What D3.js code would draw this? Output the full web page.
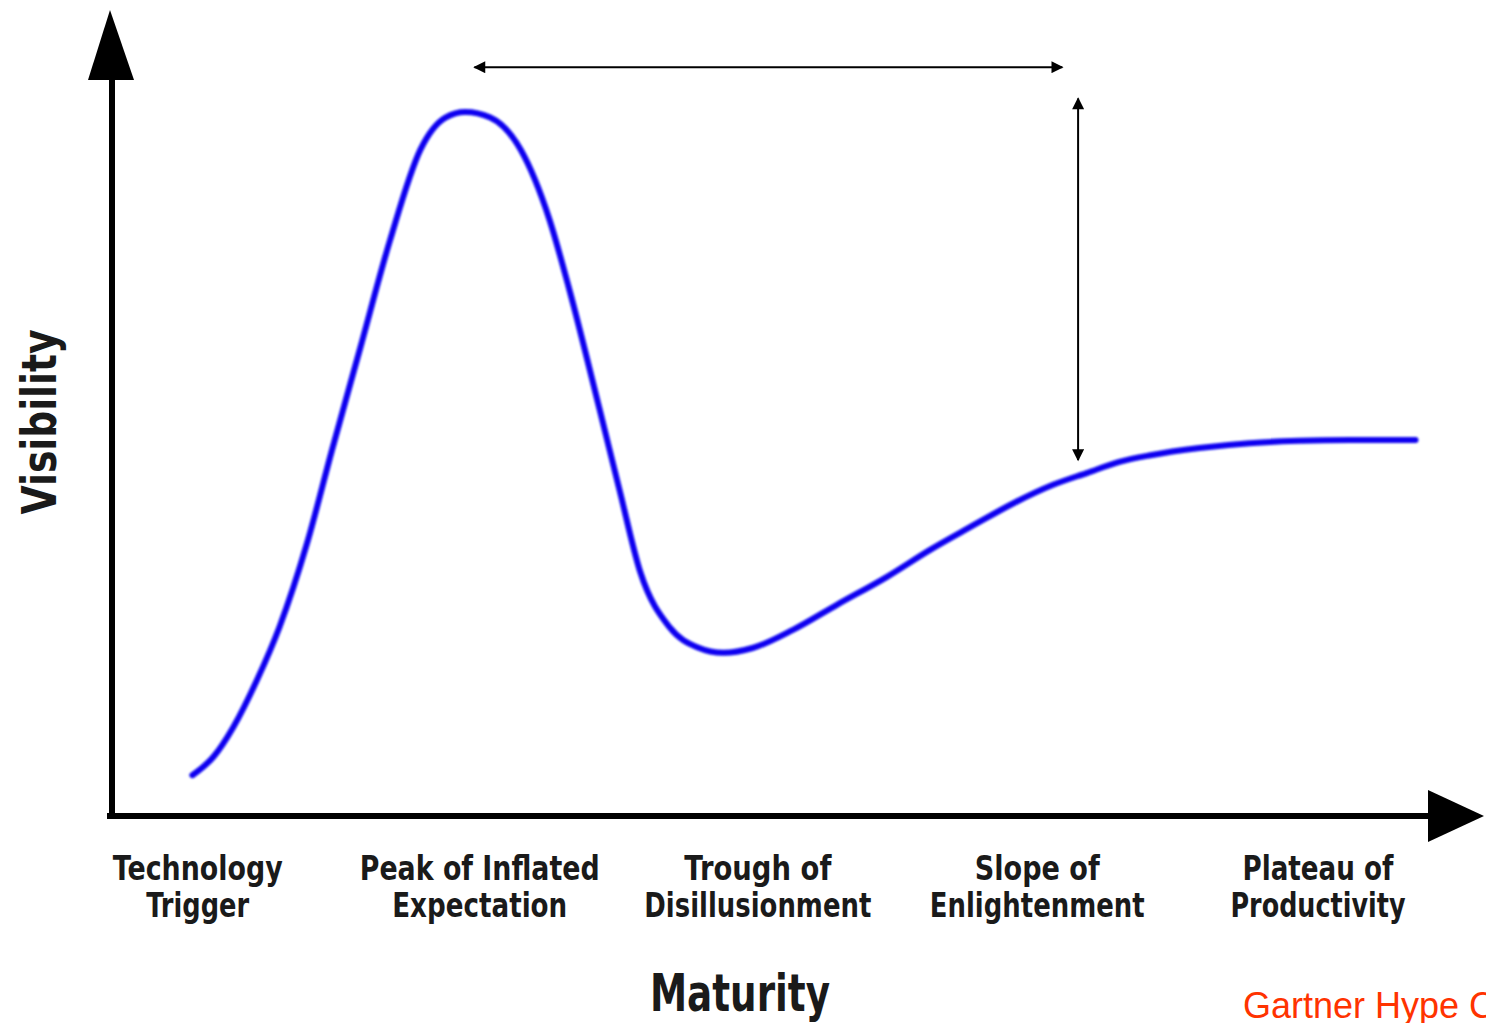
<!DOCTYPE html>
<html>
<head>
<meta charset="utf-8">
<script src="https://cdn.jsdelivr.net/npm/d3@7"></script>
<style>
  html, body { margin: 0; padding: 0; background: #fff; overflow: hidden; }
  svg { display: block; }
  .phase { font-family: "DejaVu Sans", sans-serif; font-weight: bold; fill: #1a1a1a; }
</style>
</head>
<body>
<svg id="chart"></svg>
<script>
var width = 1486;
var height = 1023;

// hype curve: maturity (0-100) vs visibility (0-100)
var maturity = [6.1, 7.7, 9.2, 11.0, 12.7, 14.8, 16.7, 18.8, 21.1, 23.4, 25.3, 26.8, 28.7, 31.0, 33.2, 34.7, 37.0, 38.5, 40.1, 42.3, 44.4, 46.4, 48.6, 51.7, 55.0, 58.8, 62.1, 65.1, 68.4, 71.4, 74.0, 76.5, 78.8, 82.5, 86.3, 90.1, 93.9, 98.9];
var visibility = [5.1, 7.4, 11.1, 17.0, 23.6, 34.1, 45.8, 58.3, 72.0, 83.3, 87.3, 88.0, 87.3, 83.3, 74.5, 65.8, 50.8, 40.8, 30.4, 23.6, 21.1, 20.4, 21.0, 23.3, 26.4, 29.9, 33.3, 36.1, 39.1, 41.4, 42.9, 44.3, 45.1, 46.0, 46.6, 46.9, 47.0, 47.0];

var phaseNames = [
  ['Technology', 'Trigger'],
  ['Peak of Inflated', 'Expectation'],
  ['Trough of', 'Disillusionment'],
  ['Slope of', 'Enlightenment'],
  ['Plateau of', 'Productivity']
];
var phaseCenters = [6.5, 27.9, 49.0, 70.2, 91.5];
var phaseWidths = [[170, 103], [240, 175], [147, 227], [125, 215], [151, 175]];

// span arrows [x1, y1, x2, y2] in chart units
var spanArrows = [
  [27.5, 93.6, 72.1, 93.6],
  [73.3, 89.7, 73.3, 44.5]
];

var margin = {left: 112, right: 56, top: 16, bottom: 207};

var x = d3.scaleLinear().domain([0, 100]).range([margin.left, width - margin.right]);
var y = d3.scaleLinear().domain([0, 100]).range([height - margin.bottom, margin.top]);

var svg = d3.select('#chart').attr('width', width).attr('height', height);

var defs = svg.append('defs');
defs.append('marker')
  .attr('id', 'head')
  .attr('viewBox', '0 0 10 10')
  .attr('refX', 9).attr('refY', 5)
  .attr('markerWidth', 7).attr('markerHeight', 6)
  .attr('markerUnits', 'strokeWidth')
  .attr('orient', 'auto-start-reverse')
  .append('path').attr('d', 'M0,0L10,5L0,10Z').attr('fill', '#000');

defs.append('filter').attr('id', 'soft')
  .append('feGaussianBlur').attr('stdDeviation', 0.8);

// axes
var x0 = x(0), y0 = y(0);
svg.append('line')
  .attr('x1', x0).attr('y1', y0 + 3).attr('x2', x0).attr('y2', 75)
  .attr('stroke', '#000').attr('stroke-width', 6);
svg.append('path')
  .attr('d', 'M' + (x0 - 2) + ',10L' + (x0 + 22) + ',80L' + (x0 - 24) + ',80Z')
  .attr('fill', '#000');

svg.append('line')
  .attr('x1', x0 - 5).attr('y1', y0).attr('x2', 1432).attr('y2', y0)
  .attr('stroke', '#000').attr('stroke-width', 6);
svg.append('path')
  .attr('d', 'M1428,' + (y0 - 26) + 'L1484,' + y0 + 'L1428,' + (y0 + 26) + 'Z')
  .attr('fill', '#000');

// curve
var pts = maturity.map(function(m, i) { return [m, visibility[i]]; });
var line = d3.line()
  .x(function(d) { return x(d[0]); })
  .y(function(d) { return y(d[1]); })
  .curve(d3.curveMonotoneX);

svg.append('path')
  .datum(pts)
  .attr('d', line)
  .attr('fill', 'none')
  .attr('stroke', '#0a00f0')
  .attr('stroke-width', 6)
  .attr('stroke-linecap', 'round')
  .attr('filter', 'url(#soft)');

// span arrows
svg.selectAll('.span').data(spanArrows).enter()
  .append('line').classed('span', true)
  .attr('x1', function(d) { return x(d[0]); })
  .attr('y1', function(d) { return y(d[1]); })
  .attr('x2', function(d) { return x(d[2]); })
  .attr('y2', function(d) { return y(d[3]); })
  .attr('stroke', '#000')
  .attr('stroke-width', 2)
  .attr('marker-start', 'url(#head)')
  .attr('marker-end', 'url(#head)');

// phase labels
var phases = svg.selectAll('.phase').data(phaseNames).enter()
  .append('g').classed('phase', true);
phases.append('text')
  .attr('x', function(d, i) { return x(phaseCenters[i]); })
  .attr('y', 880)
  .attr('text-anchor', 'middle')
  .attr('font-size', 34)
  .attr('textLength', function(d, i) { return phaseWidths[i][0]; })
  .attr('lengthAdjust', 'spacingAndGlyphs')
  .text(function(d) { return d[0]; });
phases.append('text')
  .attr('x', function(d, i) { return x(phaseCenters[i]); })
  .attr('y', 917)
  .attr('text-anchor', 'middle')
  .attr('font-size', 34)
  .attr('textLength', function(d, i) { return phaseWidths[i][1]; })
  .attr('lengthAdjust', 'spacingAndGlyphs')
  .text(function(d) { return d[1]; });

// axis titles
svg.append('text').classed('phase', true)
  .attr('x', 740).attr('y', 1011)
  .attr('text-anchor', 'middle')
  .attr('font-size', 52)
  .attr('textLength', 180)
  .attr('lengthAdjust', 'spacingAndGlyphs')
  .text('Maturity');

svg.append('text').classed('phase', true)
  .attr('transform', 'translate(56,422) rotate(-90)')
  .attr('text-anchor', 'middle')
  .attr('font-size', 48)
  .attr('textLength', 185)
  .attr('lengthAdjust', 'spacingAndGlyphs')
  .text('Visibility');

// source caption, clipped by the right edge as in the original slide
svg.append('text')
  .attr('x', 1243).attr('y', 1018)
  .attr('font-family', 'Liberation Sans, Arial, sans-serif')
  .attr('font-size', 36)
  .attr('fill', '#ff3300')
  .text('Gartner Hype Cycle');
</script>
</body>
</html>
